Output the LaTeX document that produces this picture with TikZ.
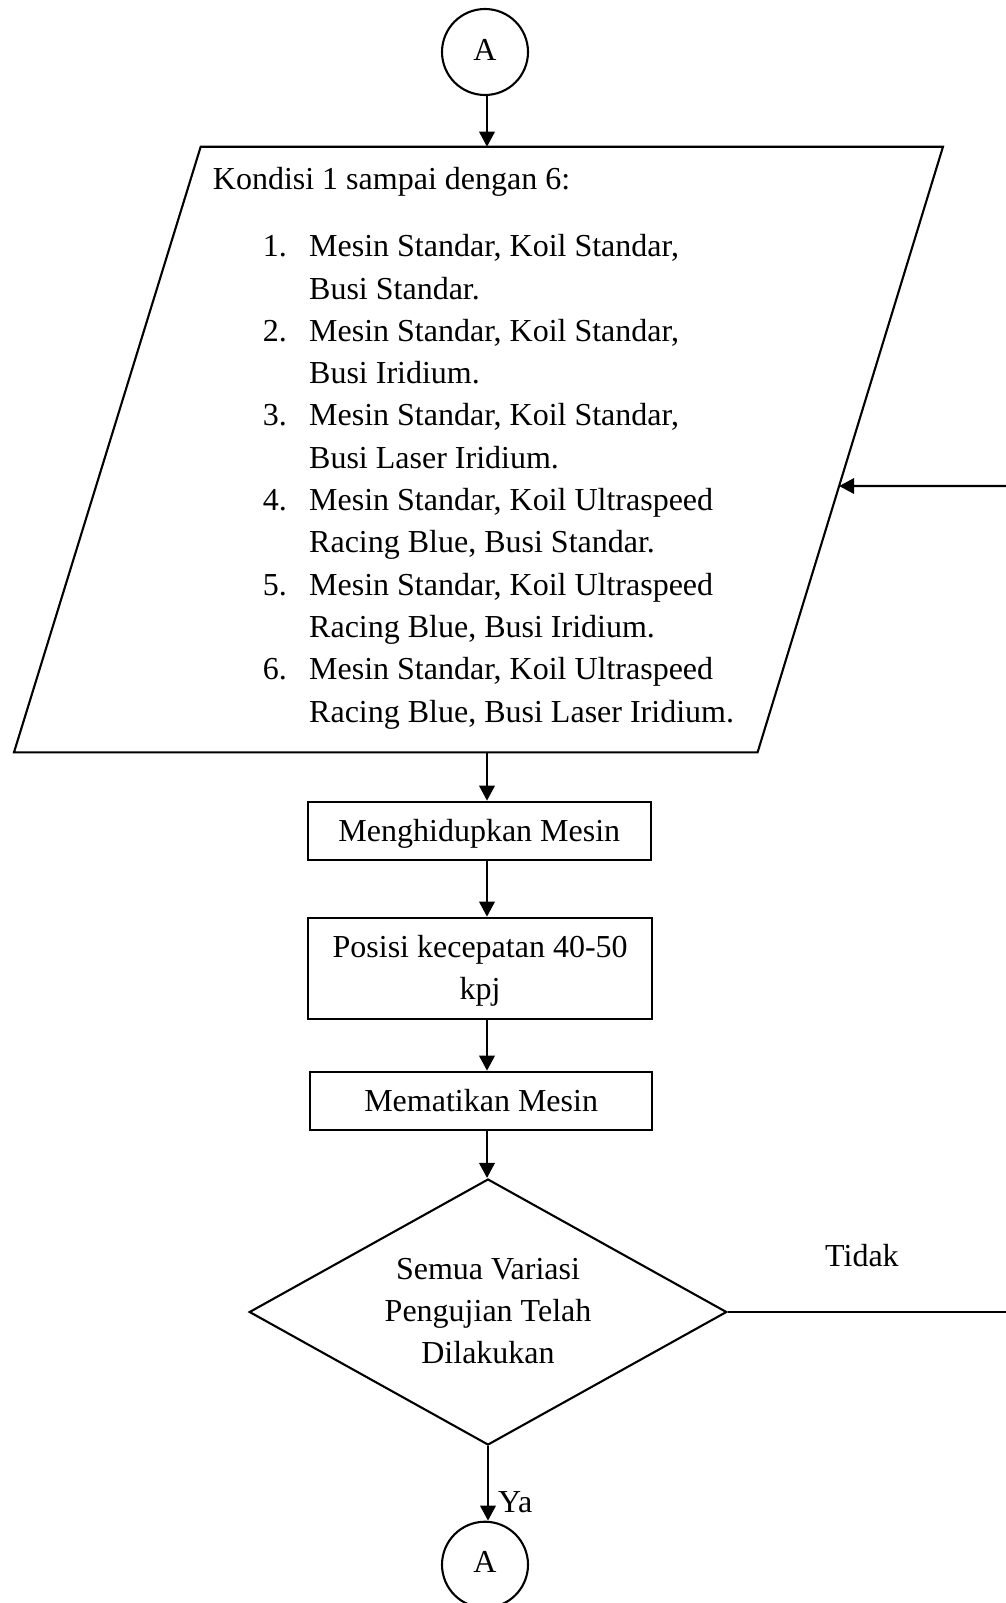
\documentclass[tikz,border=0pt]{standalone}
\usepackage{fontspec}
\setmainfont{Liberation Serif}
\usetikzlibrary{arrows.meta,shapes.geometric,calc}
\tikzset{
  every node/.style={font=\fontsize{32}{42.3}\selectfont, inner sep=0pt},
  ln/.style={line width=2.1pt},
  arr/.style={line width=2.1pt, -{Triangle[length=15pt,width=15.5pt]}},
  conn/.style={circle, draw, line width=2.1pt, minimum size=86pt, text height=16pt, text depth=0pt},
  procbox/.style={rectangle, draw, line width=2.1pt, align=center},
  decbox/.style={diamond, draw, line width=2.1pt, align=center, aspect=1.8},
  txt/.style={anchor=base west}
}
\begin{document}
\begin{tikzpicture}[x=1pt,y=-1pt]
\useasboundingbox (0,0) rectangle (1006,1603);
\coordinate (axis) at (487,0);
% top connector
\node[conn] (topA) at (485,52) {A};
% parallelogram
\coordinate (pa) at (200.7,146.7);
\coordinate (pb) at (943,146.7);
\coordinate (pc) at (757.6,752.3);
\coordinate (pd) at (14,752.3);
\draw[ln] (pa) -- (pb) -- (pc) -- (pd) -- cycle;
\coordinate (pR) at ($(pb)!0.5603!(pc)$);
\coordinate (fbR) at (1006,486);
% parallelogram text
\node[txt] (kond) at (212.7,189) {Kondisi 1 sampai dengan 6:};
\node[txt] (n1) at (262.7,256.7) {1.};
\node[txt] (t1a) at (309,256.7) {Mesin Standar, Koil Standar,};
\node[txt] (t1b) at (309,299) {Busi Standar.};
\node[txt] (n2) at (262.7,341.3) {2.};
\node[txt] (t2a) at (309,341.3) {Mesin Standar, Koil Standar,};
\node[txt] (t2b) at (309,383.6) {Busi Iridium.};
\node[txt] (n3) at (262.7,425.9) {3.};
\node[txt] (t3a) at (309,425.9) {Mesin Standar, Koil Standar,};
\node[txt] (t3b) at (309,468.2) {Busi Laser Iridium.};
\node[txt] (n4) at (262.7,510.5) {4.};
\node[txt] (t4a) at (309,510.5) {Mesin Standar, Koil Ultraspeed};
\node[txt] (t4b) at (309,552.8) {Racing Blue, Busi Standar.};
\node[txt] (n5) at (262.7,595.1) {5.};
\node[txt] (t5a) at (309,595.1) {Mesin Standar, Koil Ultraspeed};
\node[txt] (t5b) at (309,637.4) {Racing Blue, Busi Iridium.};
\node[txt] (n6) at (262.7,679.7) {6.};
\node[txt] (t6a) at (309,679.7) {Mesin Standar, Koil Ultraspeed};
\node[txt] (t6b) at (309,722) {Racing Blue, Busi Laser Iridium.};
% process boxes
\node[procbox, minimum width=342.7pt, minimum height=58.3pt, text height=28.5pt, text depth=6.8pt] (b1) at (479.35,830.85) {Menghidupkan Mesin};
\node[procbox, minimum width=344.3pt, minimum height=101.6pt,
  font=\fontsize{32}{41.6}\selectfont] (b2) at (480.15,968.5)
  {\rule{0pt}{27pt}Posisi kecepatan 40-50\\kpj\rule[-7pt]{0pt}{7pt}};
\node[procbox, minimum width=342.3pt, minimum height=58pt, text height=29pt, text depth=7pt] (b3) at (481.15,1100.7) {Mematikan Mesin};
% decision
\node[decbox, minimum width=477.5pt, minimum height=266pt] (dec) at (488,1312)
  {\rule{0pt}{26.3pt}Semua Variasi\\Pengujian Telah\\Dilakukan\rule[-7pt]{0pt}{7pt}};
% bottom connector
\node[conn] (botA) at (485,1564.7) {A};
% labels
\node[txt] (tidak) at (825,1266.7) {Tidak};
\node[txt] (ya) at (498,1512.3) {Ya};
% connectors
\draw[arr] (topA.south -| axis) -- (pa -| axis);
\draw[arr] (pd -| axis) -- (b1.north -| axis);
\draw[arr] (b1.south -| axis) -- (b2.north -| axis);
\draw[arr] (b2.south -| axis) -- (b3.north -| axis);
\draw[arr] (b3.south -| axis) -- (dec.north -| axis);
\draw[arr] (dec.south) -- (botA.north -| dec.south);
\draw[ln] (dec.east) -- (dec.east -| fbR);
\draw[arr] (fbR) -- (pR);
\end{tikzpicture}
\end{document}
